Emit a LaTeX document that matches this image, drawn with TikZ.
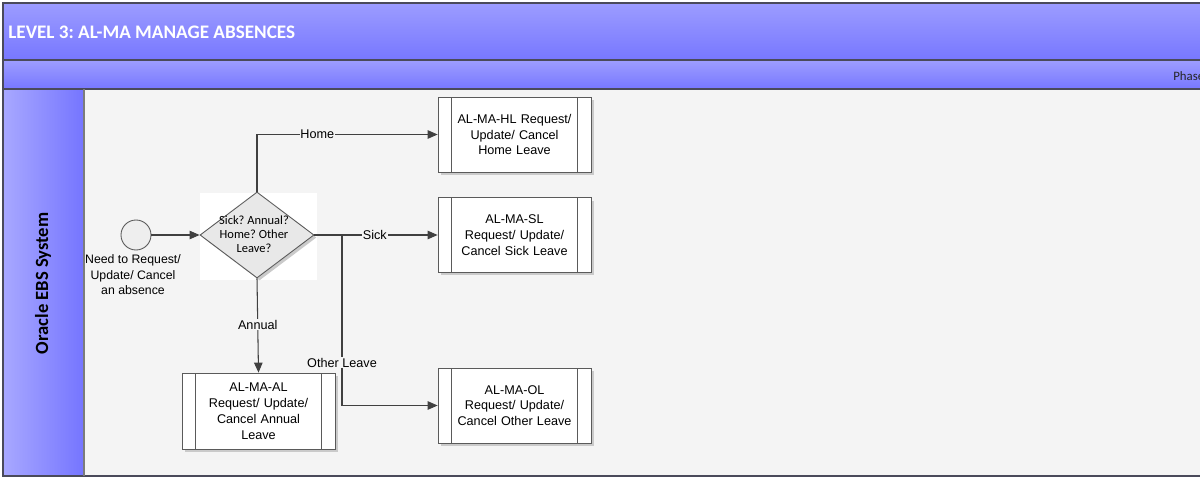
\documentclass[tikz,border=0pt]{standalone}
\usepackage{fontspec}
\setmainfont{Liberation Sans}
\newfontfamily\calibri{Carlito}
\usetikzlibrary{arrows.meta,shapes.geometric,shadows}
\frenchspacing

\definecolor{hdrtop}{HTML}{9C9CFF}
\definecolor{hdrbot}{HTML}{7777FF}
\definecolor{laneleft}{HTML}{A8A8FF}
\definecolor{laneright}{HTML}{7575FF}
\definecolor{lanebg}{HTML}{F4F4F4}
\definecolor{frameline}{HTML}{4A4A5A}
\definecolor{boxline}{HTML}{5A5A5A}
\definecolor{flowline}{HTML}{404040}
\definecolor{shadowgray}{HTML}{CACACA}
\definecolor{decfill}{HTML}{E8E8E8}
\definecolor{startfill}{HTML}{EEEEEE}

\tikzset{
  bodytext/.style={font=\fontsize{7.2}{9}\selectfont, align=center},
  procbox/.style={draw=boxline, line width=0.45pt, fill=white, bodytext,
    minimum width=3.06cm, minimum height=1.5cm, inner sep=0pt, text width=2.4cm,
    drop shadow={shadow xshift=0.06cm, shadow yshift=-0.06cm, opacity=1, fill=shadowgray},
    path picture={
      \draw[boxline, line width=0.4pt]
        ([xshift=0.27cm]path picture bounding box.north west) --
        ([xshift=0.27cm]path picture bounding box.south west)
        ([xshift=-0.27cm]path picture bounding box.north east) --
        ([xshift=-0.27cm]path picture bounding box.south east);
    }},
  decision/.style={shape=diamond, draw=boxline, line width=0.5pt, fill=decfill,
    minimum width=2.28cm, minimum height=1.72cm, inner sep=0pt, shape aspect=1.33,
    drop shadow={shadow xshift=0.05cm, shadow yshift=-0.05cm, opacity=1, fill=shadowgray}},
  startev/.style={circle, draw=boxline, line width=0.5pt, fill=startfill,
    minimum size=0.6cm, inner sep=0pt},
  flow/.style={draw=flowline, line width=0.6pt,
    -{Triangle[length=0.2cm, width=0.17cm]}},
  flowlabel/.style={bodytext, fill=lanebg, inner sep=0.5pt},
}

\begin{document}
\begin{tikzpicture}[x=0.02cm, y=-0.02cm]
  \useasboundingbox (0,0) rectangle (1200,477);
  \clip (0,0) rectangle (1200,477);

  % pool header
  \shade[top color=hdrtop, bottom color=hdrbot] (3,3) rectangle (1200,60);
  \node[anchor=west, text=white, inner sep=0pt,
        font=\calibri\bfseries\fontsize{10.9}{12}\selectfont]
    (title) at (8,32) {LEVEL 3: AL-MA MANAGE ABSENCES};

  % phase bar
  \shade[top color=hdrtop, bottom color=hdrbot] (3,61) rectangle (1200,89);
  \node[anchor=west, text=black!85, font=\calibri\fontsize{7.3}{9}\selectfont, inner sep=0pt]
    (phase) at (1173,76) {Phase};

  % lane
  \fill[lanebg] (84,89) rectangle (1200,476);
  \shade[left color=laneleft, right color=laneright] (3,89) rectangle (84,476);
  \node[rotate=90, font=\calibri\bfseries\fontsize{10.6}{12}\selectfont]
    (lane) at (43,283.5) {Oracle EBS System};

  % frame lines
  \draw[frameline, line width=0.8pt] (1201,3) -- (3,3) -- (3,476) -- (1201,476);
  \draw[frameline, line width=0.8pt] (3,60) -- (1201,60);
  \draw[frameline, line width=0.8pt] (3,89) -- (1201,89);
  \draw[boxline!80, line width=0.6pt] (84,89) -- (84,476);

  % start event
  \node[startev] (start) at (136,235) {};
  \node[bodytext, font=\fontsize{7}{8.8}\selectfont] (startlbl) at (133,275)
    {Need to Request/\\Update/ Cancel\\an absence};

  % decision
  \fill[white] (200,193) rectangle (317,280);
  \node[decision] (dec) at (257,235) {};
  \node[align=center, font=\calibri\fontsize{7.1}{8}\selectfont, inner sep=0pt]
    (dectext) at (254,234) {Sick? Annual?\\Home? Other\\Leave?};

  % sub-processes
  \node[procbox] (home) at (514.5,134.5) {AL-MA-HL Request/\\Update/ Cancel\\Home Leave};
  \node[procbox] (sick) at (514.5,235) {AL-MA-SL\\Request/ Update/\\Cancel Sick Leave};
  \node[procbox, minimum height=1.52cm] (annual) at (258.5,411) {AL-MA-AL\\Request/ Update/\\Cancel Annual\\Leave};
  \node[procbox] (other) at (514.5,405.5) {AL-MA-OL\\Request/ Update/\\Cancel Other Leave};

  % connectors
  \draw[flow] (start) -- (dec.west);
  \draw[flow] (dec.north) |- node[flowlabel, pos=0.667] (lhome) {Home} (home.west);
  \draw[flow] (dec.east) -- node[flowlabel, pos=0.49] (lsick) {Sick} (sick.west);
  \draw[flow] (dec.south) -- node[flowlabel, pos=0.49] (lannual) {Annual} (annual.north);
  \coordinate (split) at (342,235);
  \draw[flow] (split) |- node[flowlabel, pos=0.375] (lother) {Other Leave} (other.west);
\end{tikzpicture}
\end{document}
